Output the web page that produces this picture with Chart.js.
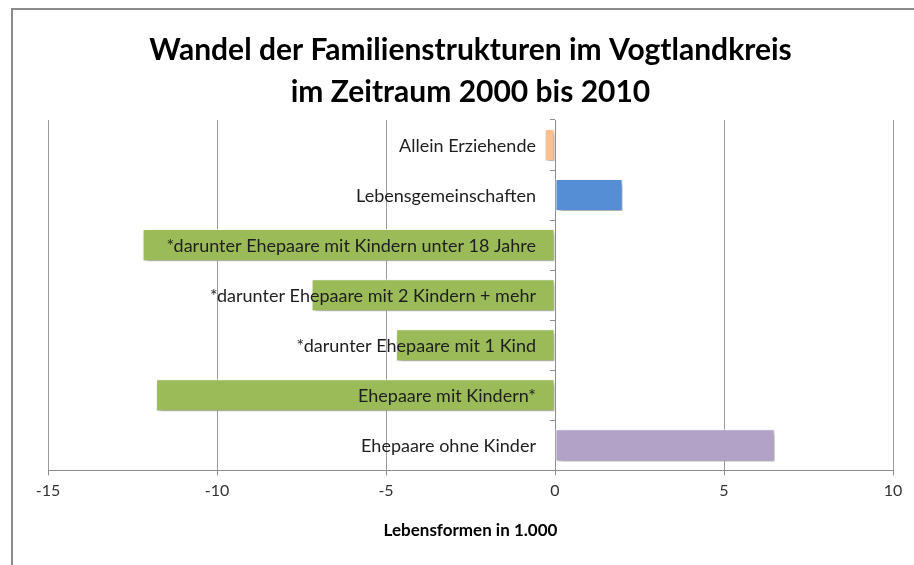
<!DOCTYPE html>
<html>
<head>
<meta charset="utf-8">
<script src="https://cdn.jsdelivr.net/npm/chart.js@4/dist/chart.umd.min.js"></script>
<style>
  body { margin: 0; overflow: hidden; background: #fff; }
  #wrap { position: relative; width: 914px; height: 565px; }
  #frame {
    position: absolute; left: 11px; top: 8px; right: -10px; bottom: -10px;
    border-top: 2px solid #8c8c8c; border-left: 2px solid #8c8c8c;
    pointer-events: none;
  }
</style>
</head>
<body>
<div id="wrap">
  <canvas id="myChart" width="914" height="565"></canvas>
  <div id="frame"></div>
</div>
<script>
// Kategorien (von oben nach unten)
const categories = [
    'Allein Erziehende',
    'Lebensgemeinschaften',
    '*darunter Ehepaare mit Kindern unter 18 Jahre',
    '*darunter Ehepaare mit 2 Kindern + mehr',
    '*darunter Ehepaare mit 1 Kind',
    'Ehepaare mit Kindern*',
    'Ehepaare ohne Kinder'
];

// Veränderung 2000-2010 in 1.000
const values = [-0.3, 2.0, -12.2, -7.2, -4.7, -11.8, 6.5];

const barColors = ['#fac090', '#558ed5', '#9bbb59', '#9bbb59', '#9bbb59', '#9bbb59', '#b3a2c7'];

const titleLines = ['Wandel der Familienstrukturen im Vogtlandkreis', 'im Zeitraum 2000 bis 2010'];
const axisTitle = 'Lebensformen in 1.000';

// Schatten unter den Balken
const shadowPlugin = {
    id: 'barShadow',
    beforeDatasetsDraw(chart) {
        const c = chart.ctx;
        c.save();
        c.shadowColor = 'rgba(0,0,0,0.4)';
        c.shadowBlur = 5;
        c.shadowOffsetX = 2;
        c.shadowOffsetY = 3;
    },
    afterDatasetsDraw(chart) {
        chart.ctx.restore();
    }
};

// Beschriftung links neben der Nulllinie, über den Balken
const labelPlugin = {
    id: 'zeroLabels',
    afterDatasetsDraw(chart) {
        const c = chart.ctx;
        const x0 = chart.scales.x.getPixelForValue(0);
        c.save();
        c.font = '18px Lato';
        c.fillStyle = '#1e1e1e';
        c.textAlign = 'right';
        c.textBaseline = 'middle';
        categories.forEach(function(label, i) {
            c.fillText(label, x0 - 19, chart.scales.y.getPixelForValue(i) + 1);
        });
        c.restore();
    }
};

new Chart(document.getElementById('myChart'), {
    type: 'bar',
    data: {
        labels: categories,
        datasets: [{
            data: values,
            backgroundColor: barColors,
            borderColor: 'rgba(255,255,255,0.9)',
            borderWidth: 1,
            borderSkipped: false,
            barPercentage: 0.64,
            categoryPercentage: 1
        }]
    },
    options: {
        indexAxis: 'y',
        responsive: false,
        animation: false,
        layout: { padding: { left: 48, right: 21, top: 0, bottom: 24 } },
        plugins: {
            legend: { display: false },
            tooltip: { enabled: false },
            title: {
                display: true,
                text: titleLines,
                font: { family: 'Lato', size: 30, weight: 'bold', lineHeight: 1.4 },
                color: '#000',
                padding: { top: 29, bottom: 7 }
            }
        },
        scales: {
            x: {
                min: -15,
                max: 10,
                ticks: {
                    stepSize: 5,
                    padding: 6,
                    color: '#333',
                    font: { family: 'Lato', size: 16 }
                },
                grid: {
                    color: '#9a9a9a',
                    tickLength: 5,
                    tickColor: '#8c8c8c'
                },
                border: { color: '#8c8c8c', width: 1 },
                title: {
                    display: true,
                    text: axisTitle,
                    color: '#000',
                    font: { family: 'Lato', size: 17, weight: 'bold', lineHeight: 1.2 },
                    padding: { top: 14, bottom: 0 }
                }
            },
            y: {
                position: { x: 0 },
                ticks: { display: false },
                grid: {
                    drawOnChartArea: false,
                    drawTicks: true,
                    tickLength: 5,
                    color: '#8c8c8c'
                },
                border: { color: '#8c8c8c', width: 1 }
            }
        }
    },
    plugins: [shadowPlugin, labelPlugin]
});
</script>
</body>
</html>
